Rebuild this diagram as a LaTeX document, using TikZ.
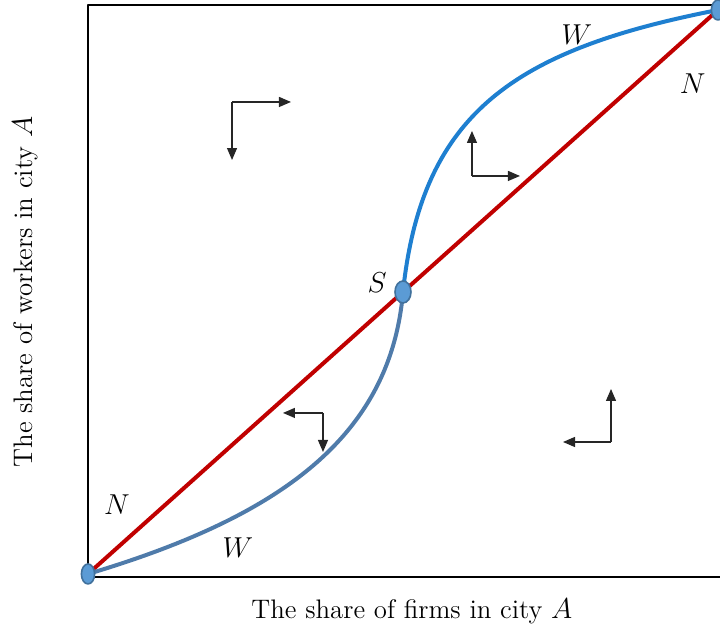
\documentclass[tikz,border=0pt]{standalone}
\usepackage{amsmath}
\usepackage{xcolor}
\usepackage{tikz}
\usetikzlibrary{arrows.meta}
\definecolor{geoRed}{HTML}{C00000}
\definecolor{geoLow}{HTML}{4F7BAA}
\definecolor{geoHigh}{HTML}{1E7FD0}
\definecolor{geoDot}{HTML}{5B9BD5}
\definecolor{geoDotRim}{HTML}{41719C}
\tikzset{
  geo diagram/.style={font=\fontsize{13.4}{16}\selectfont, line join=round},
  geo frame/.style={draw=black, line width=1.2pt},
  geo diagonal/.style={draw=geoRed, line width=2pt},
  geo low curve/.style={draw=geoLow, line width=2pt},
  geo high curve/.style={draw=geoHigh, line width=2pt},
  geo dot/.style={fill=geoDot, draw=geoDotRim, line width=0.8pt},
  geo arrow/.style={-{Triangle[length=6pt,width=5pt]}, draw=black!85, line width=0.6pt},
  geo label/.style={font=\fontsize{13.5}{16}\selectfont}
}
\begin{document}
\begin{tikzpicture}[geo diagram,x=315pt,y=282pt]
\useasboundingbox (-0.1397,-0.0993) rectangle (1.0032,1.0177);
\clip (-0.1397,-0.0993) rectangle (1.0032,1.0177);
\draw[geo frame] (0,-0.0053) rectangle (1.05,1.0089);
\coordinate (O) at (0,0);
\coordinate (S) at (0.5,0.5);
\coordinate (E) at (1,1);
\draw[geo diagonal] (O) -- (E);
\draw[geo low curve] (O) .. controls (0.3,0.1) and (0.48,0.24) .. (S);
\draw[geo high curve] (S) .. controls (0.53,0.82) and (0.68,0.93) .. (E);
\draw[geo dot] (O) ellipse [x radius=3.3pt, y radius=5pt];
\draw[geo dot] (S) ellipse [x radius=4pt, y radius=5.5pt];
\draw[geo dot] (E) ellipse [x radius=3.3pt, y radius=5pt];
% adjustment directions
\foreach \cx/\cy/\hx/\vy [count=\i] in {0.2286/0.8369/0.3222/0.734, 0.6095/0.7057/0.6857/0.7855,
  0.373/0.2855/0.3095/0.2163, 0.8302/0.234/0.754/0.328}{
  \coordinate (corner\i) at (\cx,\cy);
  \coordinate (hor\i) at (\hx,\cy);
  \coordinate (ver\i) at (\cx,\vy);
  \draw[geo arrow] (corner\i) -- (hor\i);
  \draw[geo arrow] (corner\i) -- (ver\i);
}
\node[geo label] (nlow) at (0.046,0.122) {$N$};
\node[geo label] (wlow) at (0.238,0.046) {$W$};
\node[geo label] (slab) at (0.459,0.516) {$S$};
\node[geo label] (whigh) at (0.776,0.956) {$W$};
\node[geo label] (nhigh) at (0.960,0.869) {$N$};
\node (xlab) at (0.514,-0.0656) {The share of firms in city $A$};
\node[rotate=90] (ylab) at (-0.1,0.5) {The share of workers in city $A$};
\end{tikzpicture}
\end{document}
